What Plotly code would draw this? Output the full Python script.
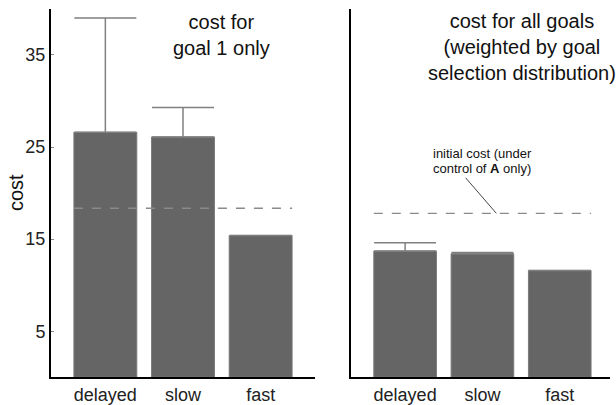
import plotly.graph_objects as go

categories = ["delayed", "slow", "fast"]
goal1_cost = [26.6, 26.1, 15.4]
goal1_err_up = [12.4, 3.2, 0.0]
all_goals_cost = [13.7, 13.4, 11.6]
all_goals_err_up = [0.9, 0.15, 0.0]
initial_cost_goal1 = 18.35
initial_cost_all = 17.8
y_ticks = [5, 15, 25, 35]

W, H = 616, 405
bar_w = 0.81
bar_color = "#656565"
err_color = "#808080"
font = "Liberation Sans, Arial, sans-serif"

fig = go.Figure()
fig.add_trace(go.Bar(
    x=categories, y=goal1_cost, width=bar_w,
    marker=dict(color=bar_color, line=dict(color="#7a7a7a", width=1)),
    error_y=dict(type="data", symmetric=False, array=goal1_err_up,
                 arrayminus=[0, 0, 0], color=err_color, thickness=1.5, width=31),
    xaxis="x", yaxis="y", showlegend=False, hoverinfo="skip"))
fig.add_trace(go.Bar(
    x=categories, y=all_goals_cost, width=bar_w,
    marker=dict(color=bar_color, line=dict(color="#7a7a7a", width=1)),
    error_y=dict(type="data", symmetric=False, array=all_goals_err_up,
                 arrayminus=[0, 0, 0], color=err_color, thickness=1.5, width=31),
    xaxis="x2", yaxis="y2", showlegend=False, hoverinfo="skip"))

ydom = [(H - 381) / H, (H - 9) / H]
axis_common = dict(showgrid=False, zeroline=False, showline=True, linecolor="black",
                   linewidth=2, tickfont=dict(family=font, size=18, color="#222"))
fig.update_layout(
    width=W, height=H, margin=dict(l=0, r=0, t=0, b=0),
    plot_bgcolor="white", paper_bgcolor="white", bargap=0.2,
    xaxis=dict(domain=[51 / W, 315 / W], range=[-0.7, 2.7], ticks="", anchor="y",
               **axis_common),
    yaxis=dict(domain=ydom, range=[0, 40], tickvals=y_ticks, ticks="inside", ticklen=3,
               tickcolor="#888", anchor="x", **axis_common),
    xaxis2=dict(domain=[351 / W, 610 / W], range=[-0.7, 2.65], ticks="", anchor="y2",
                **axis_common),
    yaxis2=dict(domain=ydom, range=[0, 40], showticklabels=False, ticks="", anchor="x2",
                **axis_common),
)

# dashed reference lines (initial cost)
fig.add_shape(type="line", xref="x", yref="y", x0=-bar_w / 2, x1=2 + bar_w / 2,
              y0=initial_cost_goal1, y1=initial_cost_goal1,
              line=dict(color="#8a8a8a", width=1.3, dash="dash"))
fig.add_shape(type="line", xref="x2", yref="y2", x0=-bar_w / 2, x1=2 + bar_w / 2,
              y0=initial_cost_all, y1=initial_cost_all,
              line=dict(color="#8a8a8a", width=1.3, dash="dash"))


def label(x_px, y_px, text, size, angle=0):
    fig.add_annotation(xref="paper", yref="paper", x=x_px / W, y=1 - y_px / H,
                       xanchor="center", yanchor="middle", text=text, textangle=angle,
                       showarrow=False, font=dict(family=font, size=size, color="#111"))


# titles
label(221, 35, "cost for<br>goal 1 only", 20)
label(522, 47, "cost for all goals<br>(weighted by goal<br>selection distribution)", 20)
# y axis label
label(16, 195, "cost", 20, angle=-90)
# initial cost note
label(482, 155, "initial cost (under", 13)
label(482, 170, "control of <b>A</b> only)", 13)
fig.add_annotation(xref="x2", yref="y2", x=1.18, y=initial_cost_all, text="",
                   showarrow=True, arrowhead=0, arrowwidth=1, arrowcolor="#444",
                   ax=-32, ay=-37)

fig.write_html("out.html", config={"displayModeBar": False},
               post_script="document.body.style.margin='0';document.body.style.overflow='hidden';")
